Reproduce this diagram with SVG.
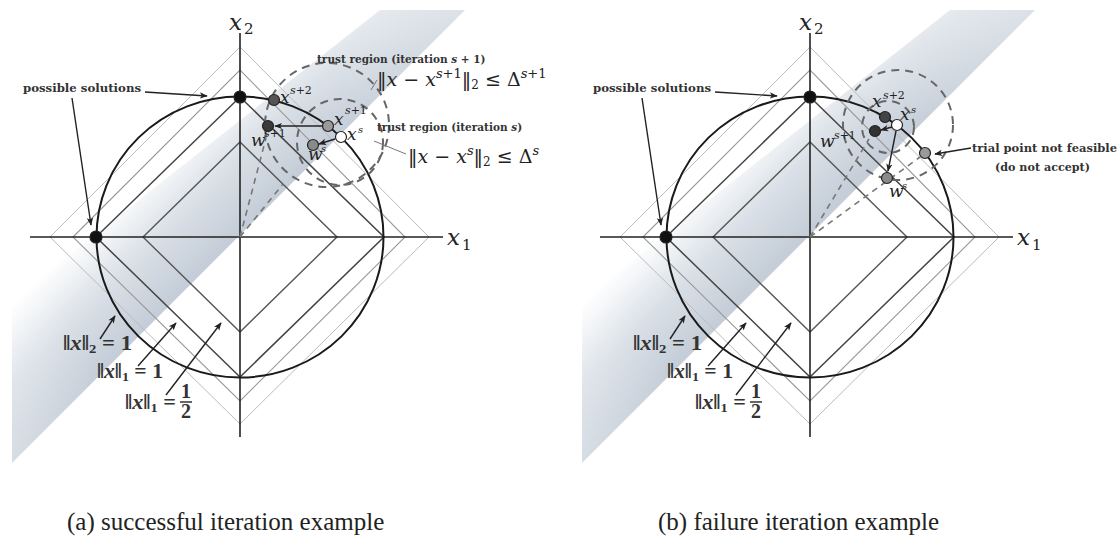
<svg xmlns="http://www.w3.org/2000/svg" width="1119" height="538" viewBox="0 0 1119 538">
<defs>
<style>
.ax{stroke:#222;stroke-width:1.6;fill:none}
.circ{stroke:#1a1a1a;stroke-width:2;fill:none}
.d1{stroke:#444;stroke-width:1.5;fill:none}
.d2{stroke:#555;stroke-width:1.4;fill:none}
.d3{stroke:#999;stroke-width:1.1;fill:none}
.d4{stroke:#bbb;stroke-width:1;fill:none}
.dash{stroke:#666;stroke-width:2;fill:none;stroke-dasharray:8 6}
.dashl{stroke:#777;stroke-width:1.6;fill:none;stroke-dasharray:6 5}
.arr{stroke:#222;stroke-width:1.4;fill:none;marker-end:url(#ah)}
.lead{stroke:#777;stroke-width:1;fill:none}
.pt{stroke:#222;stroke-width:1.2}
.lbl{font-family:"DejaVu Serif","Liberation Serif",serif;font-weight:bold;font-size:10.5px;fill:#333}
.m{font-family:"DejaVu Serif","Liberation Serif",serif;fill:#222}
.mi{font-style:italic}
.nrm{font-family:"Liberation Serif","DejaVu Serif",serif;font-weight:bold;font-size:20px;fill:#333}
.cap{font-family:"Liberation Serif","DejaVu Serif",serif;font-size:25px;fill:#222}
</style>
<marker id="ah" viewBox="0 0 10 10" refX="9" refY="5" markerWidth="8" markerHeight="8" orient="auto" markerUnits="userSpaceOnUse">
<path d="M0,1 L10,5 L0,9 L2.5,5 Z" fill="#222"/>
</marker>
<linearGradient id="bandG" gradientUnits="userSpaceOnUse" x1="240" y1="237" x2="160" y2="157">
<stop offset="0" stop-color="#c3ccd7"/>
<stop offset="0.5" stop-color="#d9dfe6"/>
<stop offset="1" stop-color="#ffffff"/>
</linearGradient>
<radialGradient id="fadeG" gradientUnits="userSpaceOnUse" cx="220" cy="250" r="330">
<stop offset="0" stop-color="#fff"/>
<stop offset="0.5" stop-color="#fff"/>
<stop offset="1" stop-color="#999"/>
</radialGradient>
<mask id="fadeM" maskUnits="userSpaceOnUse" x="0" y="0" width="480" height="480">
<rect x="0" y="0" width="480" height="480" fill="url(#fadeG)"/>
</mask>
</defs>
<rect x="0" y="0" width="1119" height="538" fill="#fff"/>

<g id="panel-a-base">
<polygon points="12,463 465,10 380,10 12,300" fill="url(#bandG)" mask="url(#fadeM)"/>
<polygon class="d4" points="50,237 240,47 429,237 240,424"/>
<polygon class="d3" points="73,237 240,70 405,237 240,401"/>
<polygon class="d1" points="96,237 240,97 384,237 240,377"/>
<polygon class="d2" points="143,237 240,142 337,237 240,332"/>
<line class="ax" x1="30" y1="237" x2="443" y2="237"/>
<line class="ax" x1="240" y1="33" x2="240" y2="437"/>
<ellipse class="circ" cx="240" cy="237" rx="143.5" ry="140.5"/>
<circle class="pt" cx="240" cy="97" r="6" fill="#111"/>
<circle class="pt" cx="96" cy="237" r="6" fill="#111"/>
<text class="m mi" x="229" y="30" font-size="23">x</text><text class="m" x="244" y="34" font-size="15">2</text>
<text class="m mi" x="447" y="245" font-size="23">x</text><text class="m" x="462" y="250" font-size="15">1</text>
<text class="lbl" x="23" y="92" textLength="118" lengthAdjust="spacingAndGlyphs">possible solutions</text>
<line class="arr" x1="145" y1="92" x2="207" y2="96"/>
<line class="arr" x1="72" y1="98" x2="91" y2="225"/>
<text class="nrm" x="63" y="350" textLength="69" lengthAdjust="spacingAndGlyphs">‖<tspan class="mi">x</tspan>‖<tspan font-size="13" dy="3">2</tspan><tspan dy="-3"> = 1</tspan></text>
<text class="nrm" x="97" y="378" textLength="66" lengthAdjust="spacingAndGlyphs">‖<tspan class="mi">x</tspan>‖<tspan font-size="13" dy="3">1</tspan><tspan dy="-3"> = 1</tspan></text>
<text class="nrm" x="125" y="409" textLength="51" lengthAdjust="spacingAndGlyphs">‖<tspan class="mi">x</tspan>‖<tspan font-size="13" dy="3">1</tspan><tspan dy="-3"> =</tspan></text>
<text class="nrm" x="186" y="398" font-size="15" text-anchor="middle">1</text>
<line x1="180" y1="402" x2="192" y2="402" stroke="#333" stroke-width="1.5"/>
<text class="nrm" x="186" y="418" font-size="15" text-anchor="middle">2</text>
<line class="arr" x1="100" y1="339" x2="115" y2="316"/>
<line class="arr" x1="138" y1="366" x2="176" y2="323"/>
<line class="arr" x1="166" y1="395" x2="221" y2="323"/>
</g>

<g id="panel-b-base" transform="translate(570,0)">
<polygon points="12,463 465,10 380,10 12,300" fill="url(#bandG)" mask="url(#fadeM)"/>
<polygon class="d4" points="50,237 240,47 429,237 240,424"/>
<polygon class="d3" points="73,237 240,70 405,237 240,401"/>
<polygon class="d1" points="96,237 240,97 384,237 240,377"/>
<polygon class="d2" points="143,237 240,142 337,237 240,332"/>
<line class="ax" x1="30" y1="237" x2="443" y2="237"/>
<line class="ax" x1="240" y1="33" x2="240" y2="437"/>
<ellipse class="circ" cx="240" cy="237" rx="143.5" ry="140.5"/>
<circle class="pt" cx="240" cy="97" r="6" fill="#111"/>
<circle class="pt" cx="96" cy="237" r="6" fill="#111"/>
<text class="m mi" x="229" y="30" font-size="23">x</text><text class="m" x="244" y="34" font-size="15">2</text>
<text class="m mi" x="447" y="245" font-size="23">x</text><text class="m" x="462" y="250" font-size="15">1</text>
<text class="lbl" x="23" y="92" textLength="118" lengthAdjust="spacingAndGlyphs">possible solutions</text>
<line class="arr" x1="145" y1="92" x2="207" y2="96"/>
<line class="arr" x1="72" y1="98" x2="91" y2="225"/>
<text class="nrm" x="63" y="350" textLength="69" lengthAdjust="spacingAndGlyphs">‖<tspan class="mi">x</tspan>‖<tspan font-size="13" dy="3">2</tspan><tspan dy="-3"> = 1</tspan></text>
<text class="nrm" x="97" y="378" textLength="66" lengthAdjust="spacingAndGlyphs">‖<tspan class="mi">x</tspan>‖<tspan font-size="13" dy="3">1</tspan><tspan dy="-3"> = 1</tspan></text>
<text class="nrm" x="125" y="409" textLength="51" lengthAdjust="spacingAndGlyphs">‖<tspan class="mi">x</tspan>‖<tspan font-size="13" dy="3">1</tspan><tspan dy="-3"> =</tspan></text>
<text class="nrm" x="186" y="398" font-size="15" text-anchor="middle">1</text>
<line x1="180" y1="402" x2="192" y2="402" stroke="#333" stroke-width="1.5"/>
<text class="nrm" x="186" y="418" font-size="15" text-anchor="middle">2</text>
<line class="arr" x1="100" y1="339" x2="115" y2="316"/>
<line class="arr" x1="138" y1="366" x2="176" y2="323"/>
<line class="arr" x1="166" y1="395" x2="221" y2="323"/>
</g>

<g id="panel-a-iter">
<circle class="dash" cx="327" cy="125" r="62"/>
<circle class="dash" cx="340" cy="142" r="43"/>
<line class="dashl" x1="240" y1="237" x2="266" y2="138"/>
<line class="dashl" x1="240" y1="237" x2="283" y2="184"/>
<line class="arr" x1="322" y1="126" x2="275" y2="126"/>
<line class="arr" x1="335" y1="139" x2="319" y2="144"/>
<circle class="pt" cx="274" cy="100" r="5.5" fill="#555"/>
<circle class="pt" cx="268" cy="126" r="5.5" fill="#3a3a3a"/>
<circle class="pt" cx="328" cy="126" r="5.5" fill="#9a9a9a"/>
<circle class="pt" cx="341" cy="137" r="5.5" fill="#fff"/>
<circle class="pt" cx="313" cy="145" r="5.5" fill="#8a8a8a"/>
<text class="m mi" x="280" y="103" font-size="17">x</text><text class="m mi" x="290" y="94" font-size="11">s<tspan font-style="normal">+2</tspan></text>
<text class="m mi" x="334" y="125" font-size="17">x</text><text class="m mi" x="345" y="114" font-size="11">s<tspan font-style="normal">+1</tspan></text>
<text class="m mi" x="347" y="140" font-size="17">x</text><text class="m mi" x="358" y="133" font-size="10">s</text>
<text class="m mi" x="251" y="146" font-size="17">w</text><text class="m mi" x="264" y="137" font-size="11">s<tspan font-style="normal">+1</tspan></text>
<text class="m mi" x="308" y="160" font-size="17">w</text><text class="m mi" x="321" y="152" font-size="10">s</text>
<text class="lbl" x="317" y="63">trust region (iteration <tspan font-style="italic">s</tspan> + 1)</text>
<text class="m" x="377" y="86" font-size="19">‖<tspan class="mi">x</tspan> − <tspan class="mi">x</tspan><tspan class="mi" font-size="13" dy="-8">s</tspan><tspan font-size="13">+1</tspan><tspan dy="8">‖</tspan><tspan font-size="12" dy="3">2</tspan><tspan dy="-3"> ≤ Δ</tspan><tspan class="mi" font-size="13" dy="-8">s</tspan><tspan font-size="13">+1</tspan></text>
<line class="lead" x1="371" y1="90" x2="377" y2="80"/>
<text class="lbl" x="377" y="131">trust region (iteration <tspan font-style="italic">s</tspan>)</text>
<line class="lead" x1="374" y1="141" x2="406" y2="154"/>
<text class="m" x="408" y="163" font-size="19">‖<tspan class="mi">x</tspan> − <tspan class="mi">x</tspan><tspan class="mi" font-size="13" dy="-8">s</tspan><tspan dy="8">‖</tspan><tspan font-size="12" dy="3">2</tspan><tspan dy="-3"> ≤ Δ</tspan><tspan class="mi" font-size="13" dy="-8">s</tspan></text>
</g>

<g id="panel-b-iter">
<circle class="dash" cx="898" cy="125" r="55"/>
<circle class="dash" cx="888" cy="127" r="26"/>
<line class="dashl" x1="810" y1="237" x2="920" y2="157"/>
<line class="dashl" x1="810" y1="237" x2="869" y2="139"/>
<line class="arr" x1="892" y1="127" x2="881" y2="130"/>
<line class="arr" x1="896" y1="131" x2="888" y2="171"/>
<circle class="pt" cx="885" cy="117" r="5.5" fill="#444"/>
<circle class="pt" cx="875" cy="131" r="5.5" fill="#333"/>
<circle class="pt" cx="897" cy="125" r="5.5" fill="#fff"/>
<circle class="pt" cx="925" cy="153" r="5.5" fill="#9a9a9a"/>
<circle class="pt" cx="887" cy="178" r="5.5" fill="#8a8a8a"/>
<text class="m mi" x="872" y="107" font-size="17">x</text><text class="m mi" x="883" y="99" font-size="11">s<tspan font-style="normal">+2</tspan></text>
<text class="m mi" x="900" y="120" font-size="17">x</text><text class="m mi" x="911" y="113" font-size="10">s</text>
<text class="m mi" x="820" y="147" font-size="17">w</text><text class="m mi" x="834" y="139" font-size="11">s<tspan font-style="normal">+1</tspan></text>
<text class="m mi" x="889" y="197" font-size="17">w</text><text class="m mi" x="902" y="189" font-size="10">s</text>
<text class="lbl" x="972" y="152" textLength="145" lengthAdjust="spacingAndGlyphs">trial point not feasible</text>
<text class="lbl" x="995" y="171" textLength="95" lengthAdjust="spacingAndGlyphs">(do not accept)</text>
<line class="arr" x1="971" y1="148" x2="935" y2="154"/>
</g>

<g id="captions">
<text class="cap" x="67" y="530">(a) successful iteration example</text>
<text class="cap" x="658" y="530">(b) failure iteration example</text>
</g>
</svg>
